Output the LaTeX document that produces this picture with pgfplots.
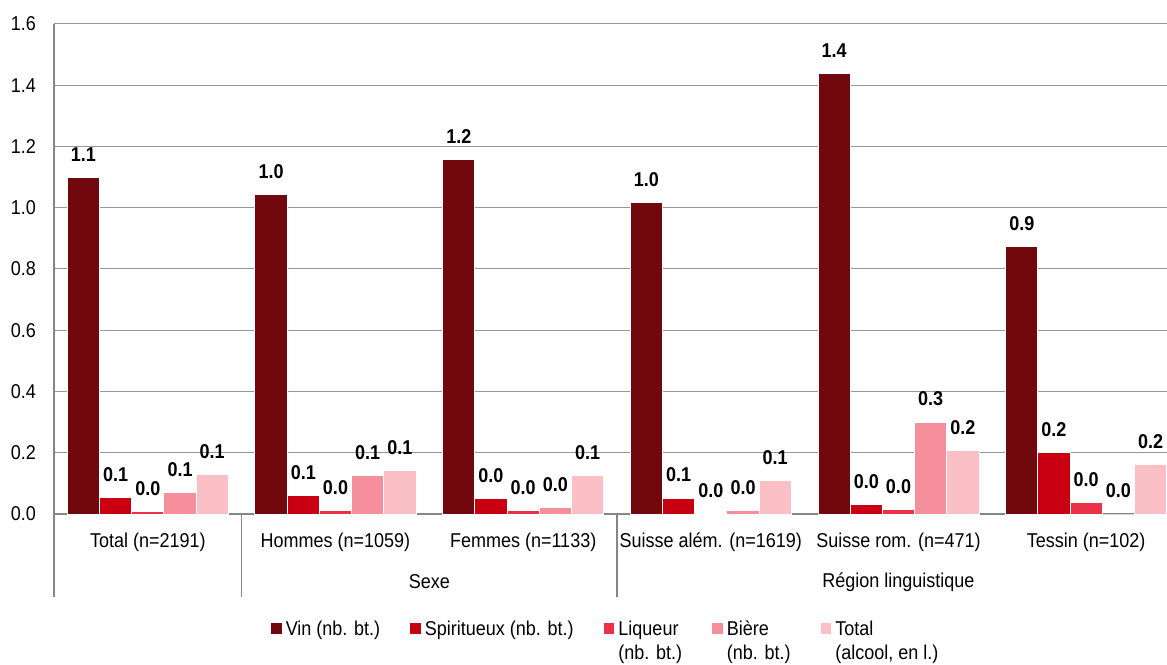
\documentclass[border=0pt]{standalone}
\usepackage{fontspec}
\setmainfont{Liberation Sans}[FakeStretch=0.9]
\usepackage{pgfplots}
\pgfplotsset{compat=1.18}
\definecolor{cvin}{RGB}{112,8,14}
\definecolor{cspi}{RGB}{200,0,18}
\definecolor{cliq}{RGB}{235,48,72}
\definecolor{cbie}{RGB}{245,143,155}
\definecolor{ctot}{RGB}{250,192,198}
\definecolor{axgray}{RGB}{134,134,134}
\definecolor{gridgray}{RGB}{150,150,150}
\pgfplotsset{mybar/.style={ybar, bar width=16.1pt, draw=white, line width=0.5pt,
  legend image code/.code={\fill[##1, draw=none] (0pt,-8.7pt) rectangle (5.4pt,-3.3pt);}}}
\begin{document}
\begin{tikzpicture}
\useasboundingbox (0,0) rectangle (583.5pt,332pt);
\begin{axis}[
  at={(27pt,75pt)}, anchor=south west,
  scale only axis, width=563pt, height=245pt,
  xmin=-0.5, xmax=5.5, ymin=0, ymax=1.6,
  clip=false,
  axis x line*=bottom, axis y line*=left,
  axis line style={-, draw=axgray, line width=0.6pt},
  ytick={0,0.2,0.4,0.6,0.8,1.0,1.2,1.4,1.6},
  ymajorgrids, grid style={draw=gridgray, line width=0.5pt},
  /pgf/number format/.cd, fixed, fixed zerofill, precision=1, assume math mode=true, /pgfplots/.cd,
  xtick={0,1,2,3,4,5},
  xticklabels={Total (n=2191), Hommes (n=1059), Femmes (n=1133), Suisse além. (n=1619), Suisse rom. (n=471), Tessin (n=102)},
  major tick length=0pt,
  xtick style={draw=none}, ytick style={draw=none},
  xticklabel style={yshift=-6pt},
  yticklabel style={xshift=-5.5pt},
  nodes near coords,
  every node near coord/.append style={font=\bfseries, anchor=center, yshift=11.5pt, text=black},
  legend columns=5,
  legend style={at={(0.187,-0.2)}, anchor=north west, draw=none, fill=none,
    cells={align=left, anchor=north west},
    /tikz/every even column/.append style={column sep=13pt}},
]
\addplot[mybar, fill=cvin, bar shift=-32.2pt, every node near coord/.append style={xshift=-32.2pt}] coordinates {(0,1.100) (1,1.042) (2,1.156) (3,1.016) (4,1.437) (5,0.873)};
\addplot[mybar, fill=cspi, bar shift=-16.1pt, every node near coord/.append style={xshift=-16.1pt}] coordinates {(0,0.053) (1,0.059) (2,0.049) (3,0.052) (4,0.030) (5,0.202)};
\addplot[mybar, fill=cliq, bar shift=0pt] coordinates {(0,0.009) (1,0.010) (2,0.010) (3,0.002) (4,0.015) (5,0.036)};
\addplot[mybar, fill=cbie, bar shift=16.1pt, every node near coord/.append style={xshift=16.1pt}] coordinates {(0,0.070) (1,0.125) (2,0.021) (3,0.010) (4,0.300) (5,0.000)};
\addplot[mybar, fill=ctot, bar shift=32.2pt, every node near coord/.append style={xshift=32.2pt}] coordinates {(0,0.130) (1,0.141) (2,0.125) (3,0.109) (4,0.207) (5,0.162)};
\legend{Vin (nb. bt.), Spiritueux (nb. bt.), {Liqueur\\(nb. bt.)}, {Bière\\(nb. bt.)}, {Total\\(alcool, en l.)}}
\draw[axgray, line width=0.6pt] (axis cs:-0.5,0) -- ++(0pt,-41.5pt);
\draw[axgray, line width=0.6pt] (axis cs:0.5,0) -- ++(0pt,-41.5pt);
\draw[axgray, line width=0.6pt] (axis cs:2.5,0) -- ++(0pt,-41.5pt);
\draw[axgray, line width=0.6pt] (axis cs:5.5,0) -- ++(0pt,-41.5pt);
\node at (axis cs:1.5,0) [yshift=-34pt] {Sexe};
\node at (axis cs:4,0) [yshift=-34pt] {Région linguistique};
\end{axis}
\end{tikzpicture}
\end{document}
